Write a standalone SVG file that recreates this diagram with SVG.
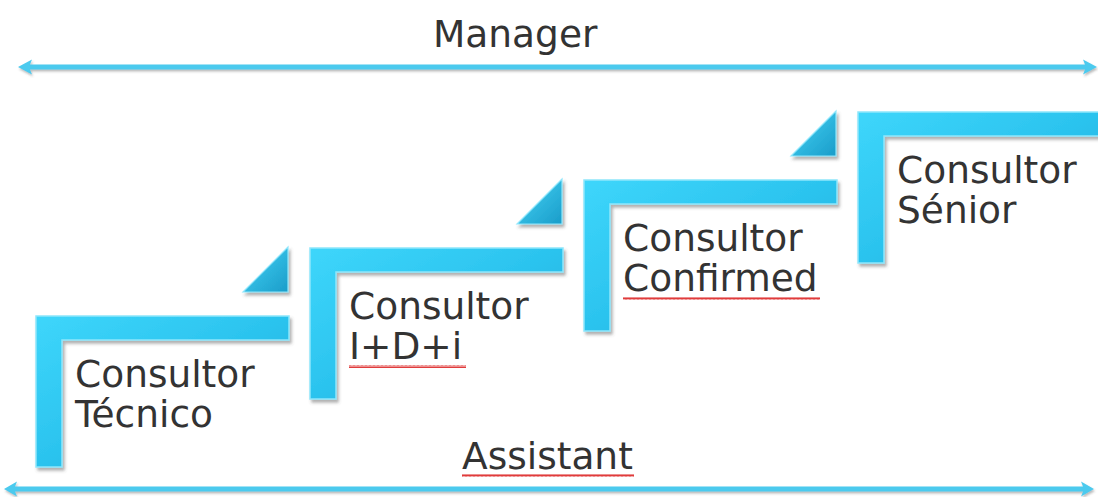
<svg xmlns="http://www.w3.org/2000/svg" width="1098" height="497" viewBox="0 0 1098 497">
<defs>
<style>
.lbl{font-family:"DejaVu Sans","Liberation Sans",sans-serif;font-size:37.5px;fill:#333333}
.step{fill:url(#gstep);stroke:#8fe6fb;stroke-width:1.5;filter:url(#sh)}
.tri{fill:url(#gtri);stroke:#8fe6fb;stroke-width:1.2;filter:url(#sh)}
.axis{fill:#4ccaee;filter:url(#sh2)}
.sq{fill:url(#squig)}
</style>
<linearGradient id="gstep" x1="0" y1="0" x2="1" y2="1">
<stop offset="0" stop-color="#3ed6fb"/>
<stop offset="0.5" stop-color="#2bc3ee"/>
<stop offset="1" stop-color="#1fa4d2"/>
</linearGradient>
<linearGradient id="gtri" x1="0" y1="0" x2="1" y2="1">
<stop offset="0" stop-color="#46d6f8"/>
<stop offset="1" stop-color="#1a9cc9"/>
</linearGradient>
<filter id="sh" x="-10%" y="-10%" width="130%" height="130%">
<feDropShadow dx="2" dy="3" stdDeviation="1.8" flood-color="#555" flood-opacity="0.45"/>
</filter>
<filter id="sh2" filterUnits="userSpaceOnUse" x="0" y="0" width="1098" height="497">
<feDropShadow dx="1" dy="2" stdDeviation="1.2" flood-color="#555" flood-opacity="0.4"/>
</filter>
<pattern id="squig" width="4" height="3" patternUnits="userSpaceOnUse">
<path d="M0,2.7 L1,0.3 L2,2.7 L3,0.3 L4,2.7" stroke="#e03c3c" stroke-width="1" fill="none"/>
</pattern>
</defs>

<g id="connectors">
<path id="manager-axis" class="axis" d="M18,67 L32,59.5 L30,64.5 H1085 L1083,59.5 L1097,67 L1083,74.5 L1085,69.5 H30 L32,74.5 Z"/>
<path id="assistant-axis" class="axis" d="M4,489 L17,481.5 L15,486.5 H1083 L1081,481.5 L1094,489 L1081,496.5 L1083,491.5 H15 L17,496.5 Z"/>
</g>

<g id="manager-label"><text class="lbl" x="433" y="47">Manager</text></g>
<g id="assistant-label">
<text class="lbl" x="462" y="469">Assistant</text>
<rect class="sq" x="462" y="474" width="172" height="3"/>
</g>

<g id="step-tecnico">
<path class="step" d="M36,316 H289 V340 H62 V467 H36 Z"/>
<path class="tri" d="M243,292 L288,247 V292 Z"/>
<text class="lbl" x="75" y="387">Consultor</text>
<text class="lbl" x="75" y="427">Técnico</text>
</g>

<g id="step-idi">
<path class="step" d="M310,248 H563 V272 H336 V399 H310 Z"/>
<path class="tri" d="M517,224 L562,179 V224 Z"/>
<text class="lbl" x="349" y="319">Consultor</text>
<text class="lbl" x="349" y="359">I+D+i</text>
<rect class="sq" x="349" y="365" width="117" height="3"/>
</g>

<g id="step-confirmed">
<path class="step" d="M584,180 H837 V204 H610 V331 H584 Z"/>
<path class="tri" d="M791,156 L836,111 V156 Z"/>
<text class="lbl" x="623" y="251">Consultor</text>
<text class="lbl" x="623" y="291">Confirmed</text>
<rect class="sq" x="623" y="297" width="197" height="3"/>
</g>

<g id="step-senior">
<path class="step" d="M858,112 H1100 V136 H884 V263 H858 Z"/>
<text class="lbl" x="897" y="183">Consultor</text>
<text class="lbl" x="897" y="223">Sénior</text>
</g>
</svg>
